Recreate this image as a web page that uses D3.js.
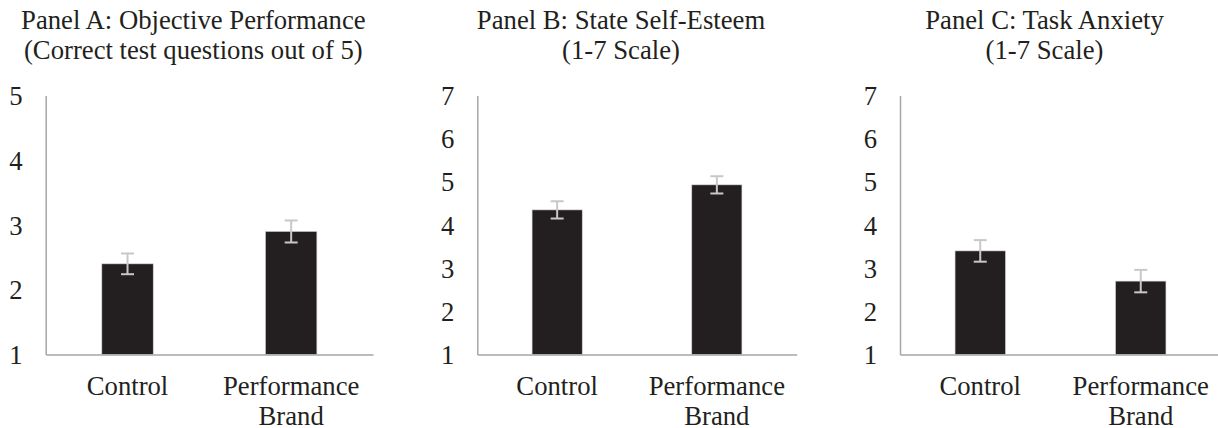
<!DOCTYPE html>
<html>
<head>
<meta charset="utf-8">
<script src="https://cdn.jsdelivr.net/npm/d3@7"></script>
<style>
  body { margin: 0; background: #fff; }
  svg { display: block; }
</style>
</head>
<body>
<svg id="chart" width="1218" height="428"></svg>
<script>
// data
const categories = ["Control", "Performance Brand"];
const panelTitles = [
  ["Panel A: Objective Performance", "(Correct test questions out of 5)"],
  ["Panel B: State Self-Esteem", "(1-7 Scale)"],
  ["Panel C: Task Anxiety", "(1-7 Scale)"]
];
const performanceMeans = [2.40, 2.90];
const performanceErr = [0.16, 0.17];
const esteemMeans = [4.35, 4.93];
const esteemErr = [0.20, 0.20];
const anxietyMeans = [3.40, 2.70];
const anxietyErr = [0.25, 0.26];
const yMaxes = [5, 7, 7];

const panels = [
  { means: performanceMeans, err: performanceErr, x0: 45.7, x1: 373 },
  { means: esteemMeans, err: esteemErr, x0: 477.3, x1: 796.7 },
  { means: anxietyMeans, err: anxietyErr, x0: 900, x1: 1221 }
];

const FONT = "'Liberation Serif', 'Times New Roman', serif";
const FS = "26.7px";
const INK = "#231f20";
const svg = d3.select("#chart");
const yTop = 95.5, yBot = 354.5;

panels.forEach((p, i) => {
  const g = svg.append("g");

  const x = d3.scaleBand()
    .domain(categories)
    .range([p.x0, p.x1])
    .paddingInner(0.686)
    .paddingOuter(0.343);

  const y = d3.scaleLinear().domain([1, yMaxes[i]]).range([yBot, yTop]);

  // titles
  const cx = (p.x0 + p.x1) / 2 - 16;
  g.selectAll(".title").data(panelTitles[i]).enter().append("text")
    .attr("class", "title")
    .attr("x", cx)
    .attr("y", (d, k) => 28.5 + k * 30)
    .attr("text-anchor", "middle")
    .style("font-family", FONT).style("font-size", FS).style("fill", INK)
    .text(d => d);

  // y axis
  const ya = g.append("g")
    .attr("transform", `translate(${p.x0},0)`)
    .call(d3.axisLeft(y).tickValues(d3.range(1, yMaxes[i] + 1)).tickSize(0).tickSizeOuter(0).tickPadding(23).tickFormat(d3.format("d")));
  ya.select(".domain").attr("stroke", "#a6a6a6").attr("stroke-width", 1.5);
  ya.selectAll(".tick text")
    .attr("dy", "0.34em")
    .style("font-family", FONT).style("font-size", FS).style("fill", INK);

  // bars
  g.selectAll(".bar").data(p.means).enter().append("rect")
    .attr("class", "bar")
    .attr("x", (d, k) => x(categories[k]))
    .attr("width", x.bandwidth())
    .attr("y", d => y(d))
    .attr("height", d => yBot - y(d))
    .attr("fill", INK)
    .attr("stroke", "#d0d0d0")
    .attr("stroke-width", 0.6);

  // error bars
  const eb = g.selectAll(".err").data(p.means).enter().append("g")
    .attr("stroke", "#c8c8c8")
    .attr("stroke-width", 2);
  const mid = k => x(categories[k]) + x.bandwidth() / 2;
  eb.append("line")
    .attr("x1", (d, k) => mid(k)).attr("x2", (d, k) => mid(k))
    .attr("y1", (d, k) => y(d + p.err[k])).attr("y2", (d, k) => y(d - p.err[k]));
  eb.append("line")
    .attr("x1", (d, k) => mid(k) - 6.5).attr("x2", (d, k) => mid(k) + 6.5)
    .attr("y1", (d, k) => y(d + p.err[k])).attr("y2", (d, k) => y(d + p.err[k]));
  eb.append("line")
    .attr("x1", (d, k) => mid(k) - 6.5).attr("x2", (d, k) => mid(k) + 6.5)
    .attr("y1", (d, k) => y(d - p.err[k])).attr("y2", (d, k) => y(d - p.err[k]));

  // x axis
  const xa = g.append("g")
    .attr("transform", `translate(0,${yBot})`)
    .call(d3.axisBottom(x).tickSize(0).tickSizeOuter(0).tickFormat(""));
  xa.select(".domain").attr("stroke", "#a6a6a6").attr("stroke-width", 1.5);

  // category labels, wrapped on the space
  g.selectAll(".cat").data(categories).enter().append("text")
    .attr("class", "cat")
    .attr("text-anchor", "middle")
    .style("font-family", FONT).style("font-size", FS).style("fill", INK)
    .each(function(d) {
      const t = d3.select(this);
      d.split(" ").forEach((w, k) => {
        t.append("tspan")
          .attr("x", x(d) + x.bandwidth() / 2)
          .attr("y", 394.5 + k * 30)
          .text(w);
      });
    });
});
</script>
</body>
</html>
